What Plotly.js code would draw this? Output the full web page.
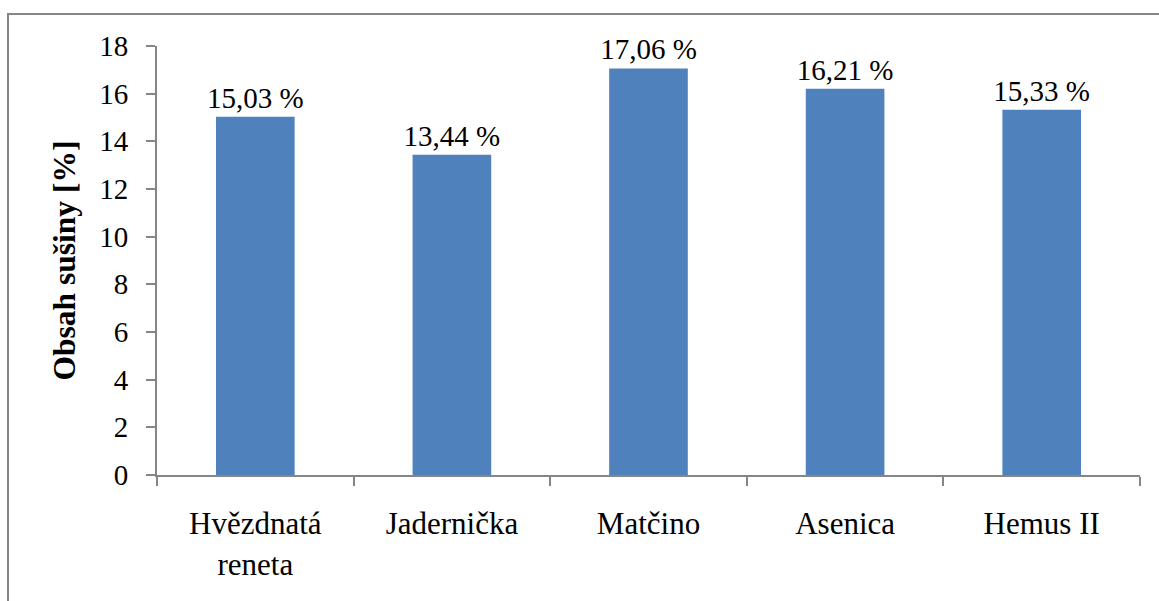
<!DOCTYPE html>
<html>
<head>
<meta charset="utf-8">
<script src="https://cdn.plot.ly/plotly-3.0.1.min.js"></script>
<style>
  html, body { margin: 0; padding: 0; background: #fff; }
  #chart { width: 1159px; height: 601px; }
</style>
</head>
<body>
<div id="chart"></div>
<script>
// Dry matter content of apple cultivars
const cultivars = ["Hvězdnatá<br>reneta", "Jadernička", "Matčino", "Asenica", "Hemus II"];
const dryMatter = [15.03, 13.44, 17.06, 16.21, 15.33];
const yTicks = [0, 2, 4, 6, 8, 10, 12, 14, 16, 18];

const serif = "'Liberation Serif', 'Times New Roman', serif";
const axisGray = "#868686";

const W = 1159, H = 601;
const margin = { l: 157, r: 19, t: 46, b: 126, pad: 0 };
const plotW = W - margin.l - margin.r;
const plotH = H - margin.t - margin.b;

// chart-area frame: left and top edges only (right/bottom run off the page)
const fx = (px) => (px - margin.l) / plotW;
const fy = (py) => 1 - (py - margin.t) / plotH;
const frame = `M ${fx(8)},${fy(H + 20)} L ${fx(8)},${fy(14)} L ${fx(W + 20)},${fy(14)}`;

const trace = {
  type: "bar",
  x: cultivars,
  y: dryMatter,
  marker: { color: "#4F81BD", line: { width: 0 } },
  texttemplate: "%{y:.2f} %",
  textposition: "outside",
  constraintext: "none",
  cliponaxis: false,
  textfont: { family: serif, size: 29, color: "#000" },
  hoverinfo: "x+y"
};

const layout = {
  width: W,
  height: H,
  margin: margin,
  separators: ", ",
  paper_bgcolor: "#fff",
  plot_bgcolor: "#fff",
  showlegend: false,
  bargap: 0.6,
  font: { family: serif, size: 29, color: "#000" },
  xaxis: {
    type: "category",
    showline: true,
    linecolor: axisGray,
    linewidth: 2,
    ticks: "outside",
    tickson: "boundaries",
    ticklen: 9,
    tickcolor: axisGray,
    tickwidth: 2,
    showgrid: false,
    zeroline: false,
    ticklabelstandoff: 20,
    tickfont: { family: serif, size: 31, color: "#000" }
  },
  yaxis: {
    range: [0, 18],
    tickvals: yTicks,
    ticktext: yTicks.map(String),
    showline: true,
    linecolor: axisGray,
    linewidth: 2,
    ticks: "outside",
    ticklen: 9,
    tickcolor: axisGray,
    tickwidth: 2,
    showgrid: false,
    zeroline: false,
    ticklabelstandoff: 12,
    tickfont: { family: serif, size: 29, color: "#000" },
    title: {
      text: "<b>Obsah sušiny [%]</b>",
      font: { family: serif, size: 31.5, color: "#000" },
      standoff: 14
    }
  },
  shapes: [{
    type: "path",
    xref: "paper",
    yref: "paper",
    path: frame,
    line: { color: axisGray, width: 2 },
    layer: "below"
  }]
};

Plotly.newPlot("chart", [trace], layout, { displayModeBar: false, staticPlot: true });
</script>
</body>
</html>
